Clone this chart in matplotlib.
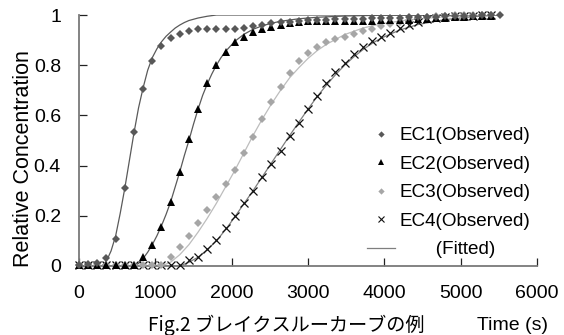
import matplotlib
matplotlib.use("Agg")
import matplotlib.pyplot as plt
from matplotlib.lines import Line2D
import numpy as np

plt.rcParams['font.family'] = ['Liberation Sans', 'Noto Sans CJK JP', 'DejaVu Sans']

# ---------------- data ----------------
t_ec1 = [0, 120, 240, 360, 480, 600, 720, 840, 960, 1080, 1200, 1320, 1440, 1560, 1680,
         1800, 1920, 2040, 2160, 2280, 2400, 2520, 2640, 2760, 2880, 3000, 3120, 3240,
         3360, 3480, 3600, 3720, 3840, 3960, 4080, 4200, 4320, 4440, 4560, 4680, 4800,
         4920, 5040, 5160, 5280, 5400, 5520]
t_obs = t_ec1[:46]

ec1_obs = [0.005, 0.008, 0.012, 0.03, 0.106, 0.31, 0.535, 0.705, 0.818, 0.878, 0.91, 0.924,
           0.937, 0.943, 0.945, 0.945, 0.945, 0.946, 0.948, 0.955, 0.962, 0.967, 0.971,
           0.974, 0.977, 0.979, 0.981, 0.982, 0.983, 0.984, 0.985, 0.986, 0.987, 0.988,
           0.989, 0.99, 0.991, 0.992, 0.993, 0.994, 0.995, 0.996, 0.997, 0.998, 0.999,
           1.0, 1.0]
ec2_obs = [0.005, 0.005, 0.005, 0.005, 0.005, 0.005, 0.005,
           0.035, 0.084, 0.157, 0.256, 0.376, 0.505, 0.627, 0.728, 0.80, 0.854, 0.891,
           0.914, 0.933, 0.944, 0.952, 0.962, 0.970, 0.974, 0.975, 0.975, 0.975, 0.976,
           0.976, 0.977, 0.977, 0.978, 0.979, 0.98, 0.981, 0.982, 0.983, 0.985, 0.987,
           0.989, 0.991, 0.993, 0.995, 0.997, 0.998]
ec3_obs = [0.005] * 10 + [
           0.037, 0.077, 0.12, 0.173, 0.223, 0.274, 0.326, 0.382, 0.449, 0.515, 0.586,
           0.652, 0.714, 0.768, 0.818, 0.85, 0.872, 0.891, 0.903, 0.914, 0.924, 0.935,
           0.945, 0.955, 0.965, 0.972, 0.98, 0.987, 0.993, 0.997, 0.998, 0.999, 1.0, 1.0,
           1.0, 1.0]
ec4_obs = [0.005] * 12 + [
           0.024, 0.037, 0.066, 0.104, 0.15, 0.2, 0.25, 0.3, 0.356, 0.406, 0.459, 0.518,
           0.571, 0.624, 0.678, 0.728, 0.774, 0.81, 0.843, 0.874, 0.896, 0.914, 0.93,
           0.947, 0.96, 0.973, 0.985, 0.99, 0.993, 0.995, 0.997, 0.998, 0.999, 1.0]

t_fit1 = [0, 300, 360, 420, 480, 540, 600, 660, 720, 780, 840, 900, 960, 1020, 1080, 1140,
          1200, 1260, 1320, 1380, 1440, 1560, 1680, 1800, 5520]
ec1_fit = [0, 0, 0.02, 0.06, 0.12, 0.21, 0.31, 0.42, 0.53, 0.63, 0.71, 0.78, 0.83, 0.865,
           0.893, 0.915, 0.932, 0.948, 0.96, 0.97, 0.978, 0.988, 0.995, 1.0, 1.0]
t_fit2 = [0, 720, 780, 840, 900, 960, 1020, 1080, 1140, 1200, 1260, 1320, 1380, 1440, 1500,
          1560, 1620, 1680, 1740, 1800, 1860, 1920, 2040, 2160, 2280, 2400, 2520, 2640,
          2880, 3120, 3480, 3960, 5520]
ec2_fit = [0, 0, 0.01, 0.03, 0.055, 0.085, 0.12, 0.16, 0.205, 0.255, 0.315, 0.375, 0.44,
           0.5, 0.565, 0.625, 0.68, 0.725, 0.765, 0.8, 0.83, 0.855, 0.895, 0.923, 0.943,
           0.957, 0.967, 0.975, 0.985, 0.991, 0.996, 0.999, 1.0]
t_fit3 = [0, 1080, 1200, 1320, 1440, 1560, 1680, 1800, 1920, 2040, 2160, 2280, 2400, 2520,
          2640, 2760, 2880, 3000, 3120, 3240, 3480, 3720, 3960, 4320, 4800, 5520]
ec3_fit = [0, 0, 0.015, 0.045, 0.085, 0.135, 0.19, 0.25, 0.315, 0.38, 0.45, 0.52, 0.585,
           0.645, 0.7, 0.75, 0.79, 0.827, 0.858, 0.883, 0.922, 0.948, 0.965, 0.981, 0.993,
           1.0]
t_fit4 = [0, 1320, 1440, 1560, 1680, 1800, 1920, 2040, 2160, 2280, 2400, 2520, 2640, 2760,
          2880, 3000, 3120, 3240, 3360, 3480, 3600, 3720, 3840, 3960, 4200, 4440, 4800,
          5160, 5520]
ec4_fit = [0, 0, 0.015, 0.035, 0.065, 0.1, 0.145, 0.195, 0.248, 0.3, 0.355, 0.41, 0.465,
           0.52, 0.573, 0.625, 0.675, 0.72, 0.762, 0.8, 0.833, 0.862, 0.887, 0.908, 0.94,
           0.962, 0.982, 0.993, 1.0]

x_ticks = [0, 1000, 2000, 3000, 4000, 5000, 6000]
y_ticks = [0, 0.2, 0.4, 0.6, 0.8, 1]
y_ticklabels = ['0', '0.2', '0.4', '0.6', '0.8', '1']
labels = ['EC1(Observed)', 'EC2(Observed)', 'EC3(Observed)', 'EC4(Observed)',
          '       (Fitted)']
caption = 'Fig.2 ブレイクスルーカーブの例'
xlabel = 'Time (s)'
ylabel = 'Relative Concentration'

# ---------------- figure ----------------
W, H = 564, 335
fig = plt.figure(figsize=(W / 100, H / 100), dpi=100)
ax = fig.add_axes([79 / W, 1 - 266 / H, (537 - 79) / W, (266 - 15) / H])

fit_lw = 0.9
ax.plot(t_fit1, ec1_fit, color='#5a5a5a', lw=fit_lw, zorder=2)
ax.plot(t_fit2, ec2_fit, color='#5a5a5a', lw=fit_lw, zorder=2)
ax.plot(t_fit3, ec3_fit, color='#bdbdbd', lw=fit_lw, zorder=2)
ax.plot(t_fit4, ec4_fit, color='#7f7f7f', lw=fit_lw, zorder=2)

dm = 3.9
ax.plot(t_obs, ec4_obs, ls='none', marker='x', ms=5.2, mew=0.9, color='#111111',
        clip_on=False, zorder=3)
ax.plot(t_obs, ec3_obs, ls='none', marker='D', ms=dm, mew=0, color='#a6a6a6',
        clip_on=False, zorder=3)
ax.plot(t_obs, ec2_obs, ls='none', marker='^', ms=5.4, mew=0, color='#000000',
        clip_on=False, zorder=3)
ax.plot(t_ec1, ec1_obs, ls='none', marker='D', ms=dm, mew=0, color='#585858',
        clip_on=False, zorder=3)

ax.set_xlim(0, 6000)
ax.set_ylim(0, 1)
ax.set_xticks(x_ticks)
ax.set_yticks(y_ticks)
ax.set_yticklabels(y_ticklabels)
for s in ['top', 'right']:
    ax.spines[s].set_visible(False)
for s in ['left', 'bottom']:
    ax.spines[s].set_color('#7a7a7a')
    ax.spines[s].set_linewidth(1.3)
ax.tick_params(axis='both', direction='in', length=6, width=0.9, color='#222222',
               labelsize=14)
ax.tick_params(axis='y', pad=13)
ax.tick_params(axis='x', pad=14)

fig.text(24 / W, 1 - 159 / H, ylabel, rotation=90, ha='center', va='center', fontsize=15.5)

# legend
handles = [
    Line2D([], [], ls='none', marker='D', ms=3.2, mew=0, color='#585858'),
    Line2D([], [], ls='none', marker='^', ms=4.4, mew=0, color='#000000'),
    Line2D([], [], ls='none', marker='D', ms=3.2, mew=0, color='#a6a6a6'),
    Line2D([], [], ls='none', marker='x', ms=4.0, mew=0.8, color='#111111'),
    Line2D([], [], color='#7f7f7f', lw=0.9),
]
fig.legend(handles, labels, loc='upper left',
           bbox_to_anchor=(367 / W, 1 - 127 / H), bbox_transform=fig.transFigure,
           frameon=False, fontsize=13.6, borderpad=0, borderaxespad=0,
           handlelength=1.5, handletextpad=0.22, labelspacing=0.6)

fig.text(148 / W, 1 - 325 / H, caption, ha='left', va='center', fontsize=13.8,
         family=['Noto Sans CJK JP', 'DejaVu Sans'])
fig.text(477 / W, 1 - 325 / H, xlabel, ha='left', va='center', fontsize=14)

fig.savefig('out.png', dpi=100)
